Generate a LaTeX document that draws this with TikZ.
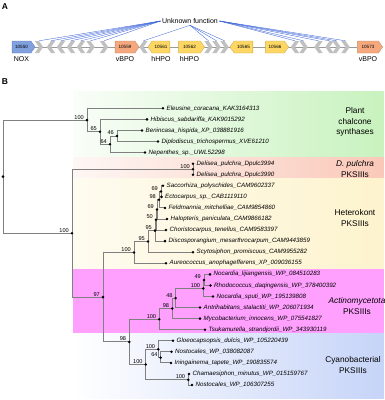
\documentclass[tikz,border=0pt]{standalone}
\usepackage{fontspec}
\setmainfont{Liberation Sans}
\usetikzlibrary{shapes.symbols,positioning,backgrounds}

\definecolor{noxblue}{RGB}{128,160,222}
\definecolor{vbpoorange}{RGB}{245,168,125}
\definecolor{hhpoyellow}{RGB}{253,214,100}
\definecolor{orfgray}{RGB}{192,192,192}
\definecolor{fanblue}{RGB}{60,100,215}
\definecolor{branchgray}{RGB}{128,128,128}
\definecolor{plantbg}{RGB}{200,242,190}
\definecolor{dpulbg}{RGB}{250,200,184}
\definecolor{heterobg}{RGB}{253,243,205}
\definecolor{actinobg}{RGB}{255,160,255}
\definecolor{cyanobg}{RGB}{198,212,248}

\newcommand{\fsz}[1]{\fontsize{#1}{#1}\selectfont}

\begin{document}
\begin{tikzpicture}[x=1pt, y=-1pt,
  panel/.style={font=\fsz{8.5}\bfseries, inner sep=0pt},
  gene/.style={signal, signal pointer angle=110, draw=#1!80!black, fill=#1, line width=0.3pt,
    minimum height=12pt, inner sep=0pt, font=\fsz{4.6}},
  orf/.style 2 args={signal, signal to=#1, signal from=#2, signal pointer angle=110,
    fill=orfgray, minimum height=12pt, minimum width=7pt, inner sep=0pt},
  genelab/.style={font=\fsz{7}, inner sep=0pt},
  fan/.style={fanblue, line width=0.35pt},
  backbone/.style={orfgray!80!black, line width=0.5pt},
  branch/.style={branchgray, line width=1pt},
  tipdot/.style={circle, fill=black, inner sep=0pt, minimum size=2.8pt},
  tip/.style={font=\fsz{6.2}\itshape, inner sep=0pt},
  boot/.style={font=\fsz{5.6}, inner sep=0pt, anchor=south east, xshift=-3pt, yshift=0.8pt},
  clade/.style={font=\fontsize{8.3}{10.3}\selectfont, align=center}
]
\useasboundingbox (0,0) rectangle (384,400);

% A: gene cluster
\node[panel] (pa) at (5,7) {A};
\node[gene=noxblue, signal to=east, minimum width=23pt] (nox) at (21.5,47) {10550};
\node[gene=vbpoorange, signal to=east, minimum width=24pt] (vb1) at (125,47) {10559};
\node[gene=hhpoyellow, signal to=west, minimum width=22pt] (hh1) at (161,47) {10561};
\node[gene=hhpoyellow, signal to=east, minimum width=26pt] (hh2) at (189.5,47) {10562};
\node[gene=hhpoyellow, signal to=west, minimum width=23pt] (hh3) at (243.5,47) {10565};
\node[gene=hhpoyellow, signal to=east, minimum width=23pt] (hh4) at (275,47) {10566};
\node[gene=vbpoorange, signal to=east, minimum width=25pt] (vb2) at (368,47) {10573};
\foreach \n/\x/\to/\from in {1/39/east/west, 2/51/west/east, 3/61/west/east, 4/71/west/east,
    5/81/west/east, 6/90.5/east/west, 7/104/east/west, 8/143.5/west/east,
    9/208.5/east/west, 10/216.5/east/west, 11/224.5/east/west, 12/295/west/east,
    13/303.5/east/west, 14/318.5/west/east, 15/329.5/west/east, 16/336.5/east/west,
    17/345.5/east/west}
  \node[orf={\to}{\from}] (g\n) at (\x,47) {};
\begin{scope}[on background layer]
  \draw[backbone] (nox.east) -- (vb2.west);
\end{scope}

\node[genelab, below=3pt of nox] (noxlab) {NOX};
\node[genelab, below=3pt of vb1] (vb1lab) {vBPO};
\node[genelab, below=3pt of hh1] (hh1lab) {hHPO};
\node[genelab, below=3pt of hh2] (hh2lab) {hHPO};
\node[genelab, below=3pt of vb2] (vb2lab) {vBPO};

\node[genelab, inner sep=1.5pt] (uf) at (190,21) {Unknown function};
\foreach \i in {1,...,7} \draw[fan] (uf.west) -- (g\i.north);
\foreach \i in {8,...,11} \draw[fan] (uf.south) -- (g\i.north);
\foreach \i in {12,...,17} \draw[fan] (uf.east) -- (g\i.north);

% B: tree
\node[panel] (pb) at (5,82) {B};

\shade[left color=plantbg!10, right color=plantbg] (73,91) rectangle (384,157.5);
\shade[left color=dpulbg!15, right color=dpulbg] (73,157.5) rectangle (384,178);
\shade[left color=heterobg!30, right color=heterobg] (73,178) rectangle (384,268.5);
\fill[actinobg] (73,268.5) rectangle (384,333.5);
\shade[left color=white, right color=cyanobg] (73,333.5) rectangle (384,398);

\node[clade] (plantlab) at (355,122) {Plant\\chalcone\\synthases};
\node[clade] (dpullab) at (355,169) {\textit{D. pulchra}\\PKSIIIs};
\node[clade] (heterolab) at (355,218) {Heterokont\\PKSIIIs};
\node[clade] (actinolab) at (357,306) {\textit{Actinomycetota}\\PKSIIIs};
\node[clade] (cyanolab) at (353,365) {Cyanobacterial\\PKSIIIs};

\foreach \i/\dx/\name in {1/163/Eleusine\_coracana\_KAK3164313,
    2/147/Hibiscus\_sabdariffa\_KAK9015292,
    3/142/Benincasa\_hispida\_XP\_038881916,
    4/158/Diplodiscus\_trichospermus\_XVE61210,
    5/145/Nepenthes\_sp.\_UWL52298,
    6/193/Delisea\_pulchra\_Dpulc3994,
    7/193/Delisea\_pulchra\_Dpulc3990,
    8/163/Saccorhiza\_polyschides\_CAM9602337,
    9/161.5/Ectocarpus\_sp.\_CAB1119110,
    10/165/Feldmannia\_mitchelliae\_CAM9854860,
    11/167/Halopteris\_paniculata\_CAM9866182,
    12/166/Choristocarpus\_tenellus\_CAM9583397,
    13/165/Discosporangium\_mesarthrocarpum\_CAM9443859,
    14/193/Scytosiphon\_promiscuus\_CAM9955282,
    15/166/Aureococcus\_anophagefferens\_XP\_009036155,
    16/210/Nocardia\_lijiangensis\_WP\_084510283,
    17/210.5/Rhodococcus\_daqingensis\_WP\_378400392,
    18/213/Nocardia\_sputi\_WP\_195139808,
    19/200/Antrihabitans\_stalactiti\_WP\_206071934,
    20/200/Mycobacterium\_innocens\_WP\_075541827,
    21/205/Tsukamurella\_strandjordii\_WP\_343930119,
    22/173/Gloeocapsopsis\_dulcis\_WP\_105220439,
    23/171.5/Nostocales\_WP\_038082087,
    24/171/Iningainema\_tapete\_WP\_190835574,
    25/189/Chamaesiphon\_minutus\_WP\_015159767,
    26/192/Nostocales\_WP\_106307255}
{
  \coordinate (l\i) at (\dx,{108.3+(\i-1)*11.07});
  \node[tip, right=3.5pt of l\i] (t\i) {\name};
}

% internal nodes
\coordinate (root) at (3,176.6);
\coordinate (P0) at (87,120.1);
\coordinate (P1) at (100,131.8);
\coordinate (P2) at (110,144.3);
\coordinate (P3) at (117,136);
\coordinate (R1) at (72,233.2);
\coordinate (D) at (193,169.3);
\coordinate (R2) at (103,297.1);
\coordinate (Hg) at (134,252.4);
\coordinate (Hf) at (148,241.4);
\coordinate (He) at (155,230.6);
\coordinate (Hd) at (156,219.8);
\coordinate (Hc) at (157,209.4);
\coordinate (Hb) at (159,199.7);
\coordinate (Ha) at (161,191.4);
\coordinate (R3) at (129.3,341.9);
\coordinate (Ae) at (159.3,319.2);
\coordinate (Ad) at (172.3,308.5);
\coordinate (Ac) at (175.7,298.1);
\coordinate (Ab) at (203.3,288.4);
\coordinate (Aa) at (204,280);
\coordinate (C) at (145.7,364.5);
\coordinate (Ca) at (158.3,349.3);
\coordinate (Cb) at (160.7,357.6);
\coordinate (Cc) at (188.3,379.8);

\foreach \a/\b in {root/P0, root/R1,
    P0/l1, P0/P1, P1/l2, P1/P2, P2/P3, P2/l5, P3/l3, P3/l4,
    R1/D, R1/R2, D/l6, D/l7, R2/Hg, R2/R3,
    Hg/Hf, Hg/l15, Hf/He, Hf/l14, He/Hd, He/l13, Hd/Hc, Hd/l12,
    Hc/Hb, Hc/l11, Hb/Ha, Hb/l10, Ha/l8, Ha/l9,
    R3/Ae, R3/C, Ae/Ad, Ae/l21, Ad/Ac, Ad/l20, Ac/Ab, Ac/l19,
    Ab/Aa, Ab/l18, Aa/l16, Aa/l17,
    C/Ca, C/Cc, Ca/l22, Ca/Cb, Cb/l23, Cb/l24, Cc/l25, Cc/l26}
  \draw[branch] (\a) |- (\b);

\foreach \n in {root,P0,P1,P2,P3,R1,D,R2,Hg,Hf,He,Hd,Hc,Hb,Ha,R3,Ae,Ad,Ac,Ab,Aa,C,Ca,Cb,Cc}
  \node[tipdot] (dot-\n) at (\n) {};
\foreach \i in {1,...,26}
  \node[tipdot] (dot-l\i) at (l\i) {};

\foreach \n/\v in {P0/100, P1/65, P2/64, P3/46, R1/100, D/100, R2/97,
    Hg/100, Hf/95, He/95, Hd/50, Hc/69, Hb/98, Ha/69,
    R3/98, Ae/100, Ad/98, Ac/48, Ab/100, Aa/49,
    C/100, Ca/100, Cb/64, Cc/100}
  \node[boot] (bs-\n) at (\n) {\v};
\end{tikzpicture}
\end{document}
